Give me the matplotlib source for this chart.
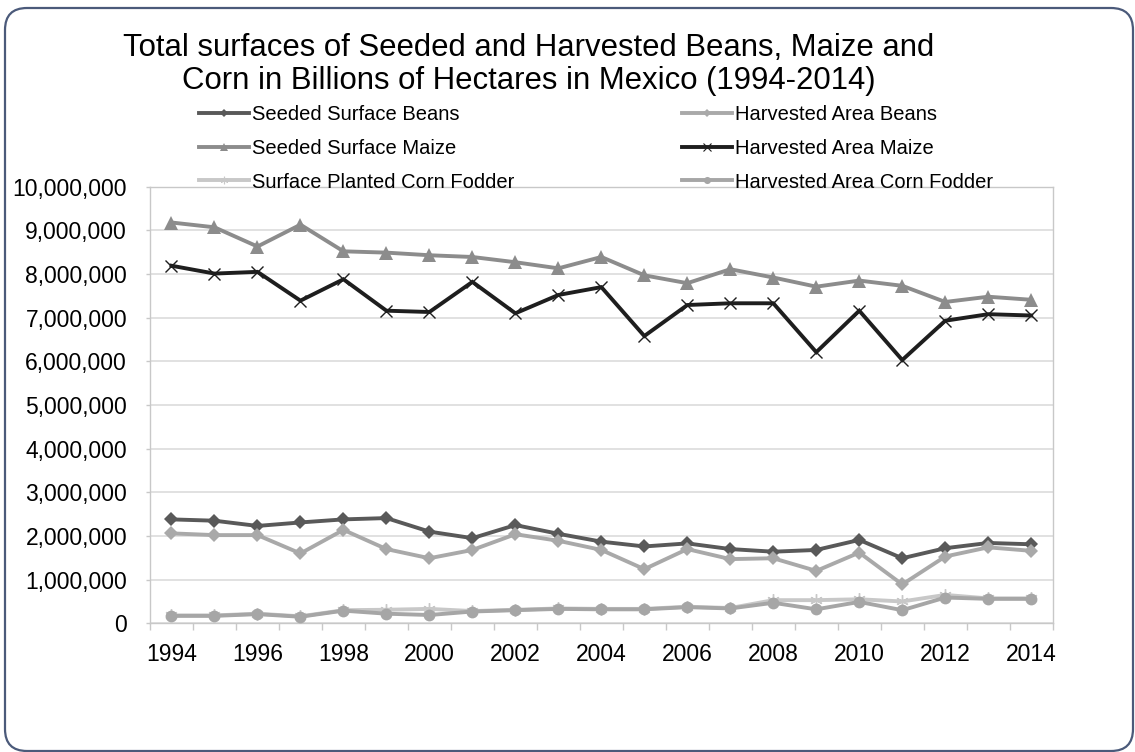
import matplotlib
matplotlib.use("Agg")
import matplotlib.pyplot as plt
from matplotlib.lines import Line2D
from matplotlib.patches import FancyBboxPatch
from matplotlib.ticker import FuncFormatter, FixedLocator

plt.rcParams['font.family'] = ['Liberation Sans', 'DejaVu Sans']

years = list(range(1994, 2015))

seeded_beans = [2380000, 2350000, 2230000, 2310000, 2380000, 2410000, 2100000,
                1950000, 2250000, 2050000, 1870000, 1760000, 1830000, 1700000,
                1640000, 1680000, 1910000, 1490000, 1720000, 1840000, 1810000]
harvested_beans = [2060000, 2020000, 2020000, 1600000, 2140000, 1700000, 1490000,
                   1680000, 2040000, 1890000, 1680000, 1240000, 1700000, 1470000,
                   1490000, 1200000, 1620000, 890000, 1530000, 1740000, 1660000]
seeded_maize = [9180000, 9070000, 8630000, 9130000, 8520000, 8490000, 8430000,
                8390000, 8270000, 8130000, 8390000, 7970000, 7790000, 8110000,
                7920000, 7710000, 7850000, 7730000, 7360000, 7480000, 7410000]
harvested_maize = [8190000, 8010000, 8050000, 7390000, 7880000, 7160000, 7130000,
                   7820000, 7100000, 7520000, 7700000, 6580000, 7290000, 7330000,
                   7330000, 6210000, 7160000, 6030000, 6930000, 7080000, 7050000]
planted_fodder = [180000, 180000, 220000, 160000, 300000, 310000, 330000,
                  280000, 310000, 340000, 330000, 330000, 380000, 350000,
                  530000, 530000, 550000, 500000, 650000, 570000, 570000]
harvested_fodder = [170000, 170000, 210000, 150000, 290000, 220000, 190000,
                    270000, 300000, 330000, 320000, 320000, 370000, 340000,
                    470000, 320000, 490000, 300000, 590000, 560000, 560000]

labels = ["Seeded Surface Beans", "Seeded Surface Maize", "Surface Planted Corn Fodder",
          "Harvested Area Beans", "Harvested Area Maize", "Harvested Area Corn Fodder"]

W, H = 1135, 752
fig = plt.figure(figsize=(W / 100, H / 100), dpi=100)

# plot area in pixel terms
left, right, top, bottom = 150, 1052.7, 186.7, 623.3
ax = fig.add_axes([left / W, (H - bottom) / H, (right - left) / W, (bottom - top) / H])

x = list(range(len(years)))

styles = [
    dict(data=seeded_beans, color="#595959", marker="D", ms=7.2, mew=0, lw=2.8, z=5),
    dict(data=seeded_maize, color="#8c8c8c", marker="^", ms=9.5, mew=0, lw=2.8, z=4),
    dict(data=planted_fodder, color="#c8c8c8", marker=(6, 2, 0), ms=9, mew=1.0, lw=2.8, z=3),
    dict(data=harvested_beans, color="#a9a9a9", marker="D", ms=7.2, mew=0, lw=2.8, z=6),
    dict(data=harvested_maize, color="#1e1e1e", marker="x", ms=9, mew=1.0, lw=2.8, z=5),
    dict(data=harvested_fodder, color="#a6a6a6", marker="o", ms=8.5, mew=0, lw=2.8, z=4),
]

handles = []
for st, lab in zip(styles, labels):
    ax.plot(x, st["data"], color=st["color"], lw=st["lw"], marker=st["marker"],
            ms=st["ms"], mew=st["mew"], mec=st["color"], mfc=st["color"],
            zorder=st["z"], solid_joinstyle="miter", clip_on=False)
    handles.append(Line2D([], [], color=st["color"], lw=2.8, marker=st["marker"],
                          ms=st["ms"] * 0.6, mew=st["mew"] * 0.8, mec=st["color"],
                          mfc=st["color"]))

ax.set_xlim(-0.5, len(years) - 0.5)
ax.set_ylim(0, 10000000)

ax.yaxis.set_major_locator(FixedLocator([i * 1000000 for i in range(11)]))
ax.yaxis.set_major_formatter(FuncFormatter(lambda v, p: f"{int(v):,}"))
ax.grid(axis="y", color="#d9d9d9", lw=1.1)
ax.set_axisbelow(True)

ax.set_xticks([i for i in x if years[i] % 2 == 0])
ax.set_xticklabels([str(years[i]) for i in x if years[i] % 2 == 0])
ax.set_xticks([i - 0.5 for i in range(len(years) + 1)], minor=True)
ax.tick_params(axis="x", which="major", length=0, pad=14, labelsize=16.5)
ax.tick_params(axis="x", which="minor", length=5, width=1, color="#c8c8c8", direction="out")
ax.tick_params(axis="y", length=3, width=1, color="#c8c8c8", pad=13.5, labelsize=16.5)

for s in ax.spines.values():
    s.set_color("#c8c8c8")
    s.set_linewidth(1.0)

fig.text(529 / W, 1 - 64.5 / H, "Total surfaces of Seeded and Harvested Beans, Maize and\n"
         "Corn in Billions of Hectares in Mexico (1994-2014)",
         ha="center", va="center", fontsize=22.4, linespacing=1.12)

fig.legend(handles, labels, ncol=2, loc="upper left",
           bbox_to_anchor=(199 / W, 1 - 105.5 / H), frameon=False,
           fontsize=14.5, handlelength=2.5, handletextpad=0.15,
           columnspacing=8.3, labelspacing=0.72, borderpad=0, borderaxespad=0)

frame = FancyBboxPatch((5, 1), 1128, 743, boxstyle="round,pad=0,rounding_size=22",
                       transform=None, fill=False, ec="#4b5a7a", lw=1.6)
fig.add_artist(frame)

fig.savefig("out.png", dpi=100)
